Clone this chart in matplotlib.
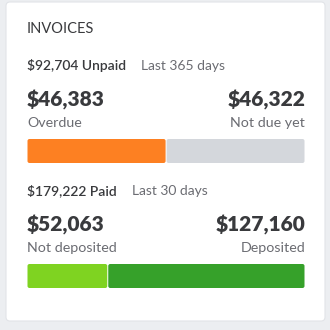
import matplotlib
matplotlib.use('Agg')
import matplotlib.pyplot as plt
from matplotlib.patches import FancyBboxPatch

# Data read from the card
title = 'INVOICES'
unpaid_total = 92704
unpaid_period = 'Last 365 days'
unpaid_labels = ['Overdue', 'Not due yet']
unpaid_values = [46383, 46322]
unpaid_colors = ['#fd8022', '#d4d7dc']

paid_total = 179222
paid_period = 'Last 30 days'
paid_labels = ['Not deposited', 'Deposited']
paid_values = [52063, 127160]
paid_colors = ['#7fd321', '#36a12a']

plt.rcParams['font.family'] = ['Lato', 'DejaVu Sans']

fig = plt.figure(figsize=(3.3, 3.3), dpi=100)
fig.patch.set_facecolor('#eceef1')
ax = fig.add_axes([0, 0, 1, 1])
ax.set_xlim(0, 330)
ax.set_ylim(330, 0)
ax.axis('off')

# card
card = FancyBboxPatch((6, 2), 319, 319, boxstyle='round,pad=0,rounding_size=4',
                      fc='white', ec='#e2e4e8', lw=0.8)
ax.add_patch(card)

dark = '#393a3d'
grey = '#6b6c72'
x0, x1 = 27, 305

ax.text(x0, 29, title, fontsize=10.5, color=dark, va='center', ha='left')


def block(y, total, word, period, labels, values, colors):
    t = ax.text(x0, y, f'${total:,} {word}', fontsize=10, color=dark,
                va='center', ha='left', fontweight='semibold')
    fig.canvas.draw()
    bb = t.get_window_extent().transformed(ax.transData.inverted())
    ax.text(bb.x1 + 15, y, period, fontsize=10, color=grey, va='center', ha='left')

    ax.text(x0, y + 34, f'${values[0]:,}', fontsize=15, fontweight='heavy',
            color=dark, va='center', ha='left')
    ax.text(x1, y + 34, f'${values[1]:,}', fontsize=15, fontweight='heavy',
            color=dark, va='center', ha='right')
    ax.text(x0, y + 57, labels[0], fontsize=10.3, color=grey, va='center', ha='left')
    ax.text(x1, y + 57, labels[1], fontsize=10.3, color=grey, va='center', ha='right')

    # stacked bar scaled from the values
    scale = (x1 - x0) / sum(values)
    left = x0
    gap = 1
    for v, c in zip(values, colors):
        w = v * scale
        ax.add_patch(FancyBboxPatch((left + gap / 2, y + 73), w - gap, 24,
                                    boxstyle='round,pad=0,rounding_size=2',
                                    fc=c, ec='none'))
        left += w


block(66, unpaid_total, 'Unpaid', unpaid_period, unpaid_labels, unpaid_values, unpaid_colors)
block(191, paid_total, 'Paid', paid_period, paid_labels, paid_values, paid_colors)

fig.savefig('out.png', dpi=100, facecolor=fig.get_facecolor())
